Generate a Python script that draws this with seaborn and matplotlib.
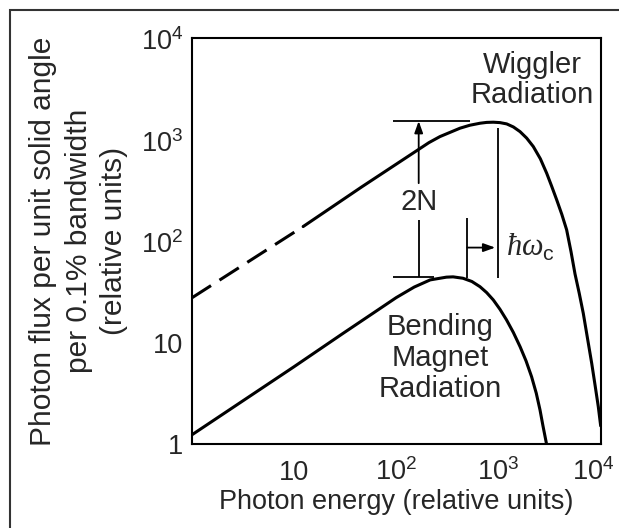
import pandas as pd
import matplotlib
matplotlib.use('Agg')
import matplotlib.pyplot as plt
import matplotlib.transforms as mtrans
import seaborn as sns
from matplotlib.patches import Rectangle

# values (relative units)
bend_x = [1, 3, 10, 30, 60, 100, 150, 215, 310, 360, 450, 550, 660, 767, 890, 1035,
          1200, 1400, 1630, 1862, 2110, 2344, 2550, 2723, 2950]
bend_y = [1.22, 2.56, 5.77, 12.3, 19.7, 27.9, 35.5, 41.8, 44.5, 44.8, 43.4, 40.3, 35.8, 31.3, 26.5, 21.4,
          16.8, 12.6, 9.1, 6.6, 4.6, 3.16, 2.16, 1.51, 1.0]

wig_dash_x = [1, 12.3]
wig_dash_y = [27.7, 141]

wig_x = [12.3, 45.6, 163, 209, 268, 421, 525, 661, 767, 891, 1035, 1205, 1400, 1626, 1888, 2193,
         2570, 2965, 3311, 3715, 4169, 4645, 5129, 5610, 6166, 6760, 7413, 8170, 8810, 9480, 10000]
wig_y = [141, 346, 809, 955, 1096, 1327, 1419, 1486, 1514, 1521, 1507, 1463, 1365, 1227, 1059, 873,
         661, 475, 355, 259, 186, 131, 79.4, 47.9, 30.9, 19.5, 11.2, 6.25, 3.8, 2.32, 1.5]

xtick_vals = [10, 100, 1000, 10000]
xtick_labels = ['10', '$10^2$', '$10^3$', '$10^4$']
ytick_vals = [1, 10, 100, 1000, 10000]
ytick_labels = ['1', '10', '$10^2$', '$10^3$', '$10^4$']

sns.set_style('white')
plt.rcParams['font.family'] = ['Liberation Sans', 'DejaVu Sans']
plt.rcParams['mathtext.fontset'] = 'custom'
plt.rcParams['mathtext.rm'] = 'Liberation Sans'
plt.rcParams['mathtext.it'] = 'Liberation Serif:italic'
plt.rcParams['mathtext.default'] = 'regular'

fig = plt.figure(figsize=(6.19, 5.28), dpi=100)
ax = fig.add_axes([0.3097, 0.1597, 0.6607, 0.7678])

bend = pd.DataFrame({'energy': bend_x, 'flux': bend_y})
wig_dash = pd.DataFrame({'energy': wig_dash_x, 'flux': wig_dash_y})
wig = pd.DataFrame({'energy': wig_x, 'flux': wig_y})

sns.lineplot(data=bend, x='energy', y='flux', ax=ax, color='black', lw=2.2, estimator=None)
sns.lineplot(data=wig_dash, x='energy', y='flux', ax=ax, color='black', lw=2.2,
             estimator=None, linestyle=(0, (7.5, 3.3)))
sns.lineplot(data=wig, x='energy', y='flux', ax=ax, color='black', lw=2.2, estimator=None)

ax.set(xscale='log', yscale='log', xlim=(1, 1e4), ylim=(1, 1.03e4))
ax.minorticks_off()
ax.set_xticks(xtick_vals)
ax.set_xticklabels(xtick_labels)
ax.set_yticks(ytick_vals)
ax.set_yticklabels(ytick_labels)
ax.tick_params(axis='x', direction='in', length=9, width=1.3, labelsize=19.5, pad=26, color='black')
ax.tick_params(axis='y', direction='in', length=11.5, width=1.3, labelsize=19.5, pad=6, color='black')
for lab in ax.get_xticklabels():
    lab.set_verticalalignment('baseline')
# last x label sits a little left so it stays inside the picture
last = ax.get_xticklabels()[-1]
last.set_transform(last.get_transform() + mtrans.ScaledTranslation(-0.07, 0, fig.dpi_scale_trans))
for s in ax.spines.values():
    s.set_color('black')
    s.set_linewidth(1.5)

ax.set_xlabel('Photon energy (relative units)', fontsize=19.5, va='top')
ax.xaxis.set_label_coords(0.5, -0.112)
ax.set_ylabel('Photon flux per unit solid angle\nper 0.1% bandwidth\n(relative units)',
              fontsize=21.5, va='center', linespacing=1.33)
ax.yaxis.set_label_coords(-0.2765, 0.5)

# 2N marker between the two peaks
a_lw = 1.3
ax.hlines(1560, 93.7, 527, color='black', lw=a_lw)
ax.hlines(45, 93.7, 234, color='black', lw=a_lw)
ax.vlines(166, 45, 164, color='black', lw=a_lw)
ax.annotate('', xy=(166, 1560), xytext=(166, 379),
            arrowprops=dict(arrowstyle='-|>,head_length=0.5,head_width=0.18', color='black',
                            lw=a_lw, mutation_scale=14, shrinkA=0, shrinkB=0))
ax.text(166, 249, '2N', ha='center', va='center', fontsize=21)

# critical energy shift
ax.vlines(496, 43.4, 171, color='black', lw=a_lw)
ax.annotate('', xy=(930, 87.3), xytext=(496, 87.3),
            arrowprops=dict(arrowstyle='-|>,head_length=0.5,head_width=0.18', color='black',
                            lw=a_lw, mutation_scale=14, shrinkA=0, shrinkB=0))
ax.vlines(1000, 43.5, 1340, color='black', lw=a_lw)
ax.text(1190, 88, r'$\mathit{\hbar\omega}_{\mathrm{c}}$', ha='left', va='center', fontsize=22)

ax.text(2150, 3990, 'Wiggler\nRadiation', ha='center', va='center', fontsize=21, linespacing=1.1)
ax.text(268, 7.06, 'Bending\nMagnet\nRadiation', ha='center', va='center', fontsize=21, linespacing=1.12)

# outer frame of the original figure
fig.add_artist(Rectangle((10 / 619, -0.2), 1.5, 1.2 - 10 / 528,
                         transform=fig.transFigure, fill=False, edgecolor='#333333', lw=1.5))

fig.savefig('out.png', dpi=100)
